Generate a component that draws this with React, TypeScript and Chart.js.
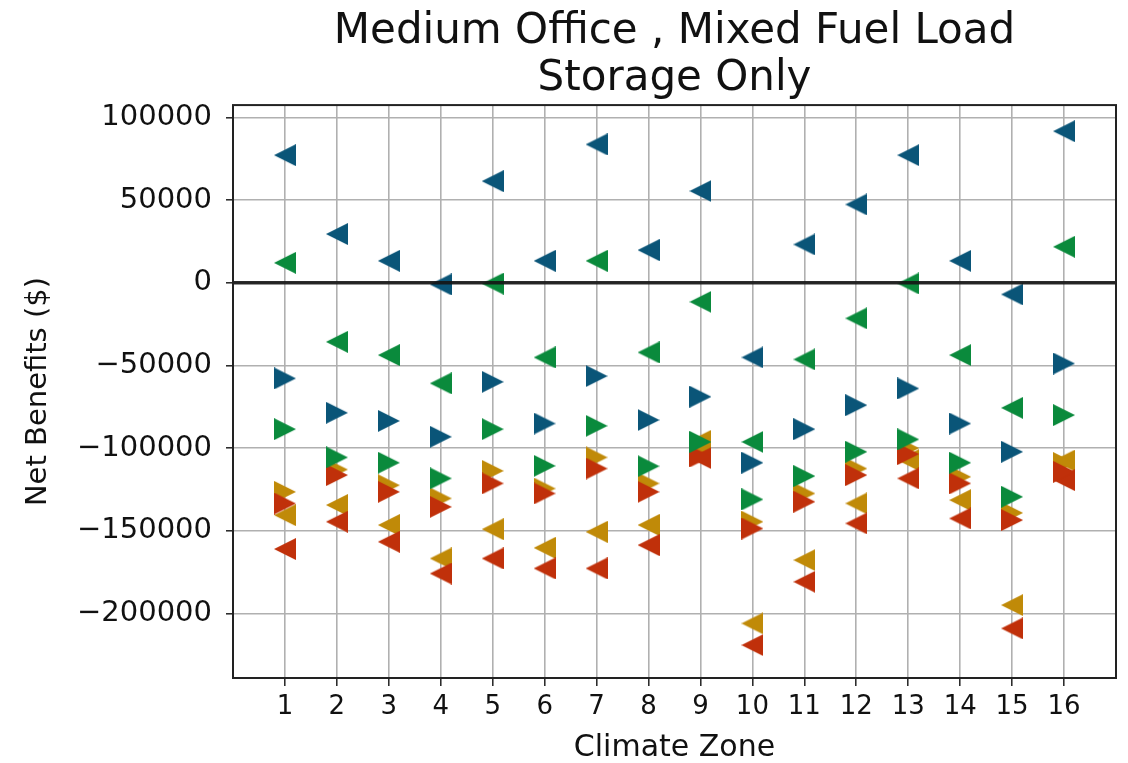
import { useEffect, useRef } from 'react';
import { Chart, registerables } from 'chart.js';

Chart.register(...registerables);

// Climate zones on the x axis
const zones = [1, 2, 3, 4, 5, 6, 7, 8, 9, 10, 11, 12, 13, 14, 15, 16];

// Net benefits ($) per climate zone, one array per marker series
const blueLeft = [77200, 29500, 13300, -1000, 61500, 13300, 83700, 19800, 55500, -45100, 23200, 47400, 77200, 13300, -7000, 91700];
const blueRight = [-57800, -78600, -83500, -93100, -59900, -85100, -56400, -83000, -68900, -108800, -88500, -74000, -63900, -85100, -102200, -48800];
const greenLeft = [12100, -35700, -43700, -60800, -500, -45100, 13300, -42100, -11500, -96200, -46300, -21500, -400, -43700, -75600, 21800];
const greenRight = [-88500, -105600, -108800, -118300, -88500, -110700, -86500, -110900, -96200, -131000, -116900, -102200, -94700, -108800, -129400, -80000];
const goldLeft = [-140500, -134400, -146500, -166700, -149000, -160300, -150600, -146500, -95500, -206000, -167700, -133400, -107200, -131400, -194900, -107500];
const goldRight = [-126400, -112900, -122400, -130400, -113700, -124400, -105600, -121300, -100500, -144500, -127400, -112300, -100000, -117300, -139100, -109000];
const redLeft = [-161000, -144500, -156600, -175800, -166700, -172700, -172700, -158600, -106000, -219100, -180800, -145500, -118300, -142500, -209000, -119300];
const redRight = [-133500, -116300, -126400, -135500, -121300, -127400, -112300, -126400, -105000, -148600, -132400, -116300, -103600, -121300, -143500, -114300];

// Axis tick values
const yTickValues = [100000, 50000, 0, -50000, -100000, -150000, -200000];
const xLimits = [0, 17];
const yLimits = [-239000, 107500];

const FONT = 'DejaVu Sans';
const BLUE = '#0a5578';
const GREEN = '#0a8a3c';
const GOLD = '#c08a08';
const RED = '#c0300a';

// Matplotlib-style triangle marker: tip on one side, flat base on the other
function triangleMarker(color: string, dir: 'left' | 'right'): HTMLCanvasElement {
  const s = 22;
  const c = document.createElement('canvas');
  c.width = s;
  c.height = s;
  const g = c.getContext('2d')!;
  g.fillStyle = color;
  g.beginPath();
  if (dir === 'left') {
    g.moveTo(0, s / 2);
    g.lineTo(s, 0);
    g.lineTo(s, s);
  } else {
    g.moveTo(s, s / 2);
    g.lineTo(0, 0);
    g.lineTo(0, s);
  }
  g.closePath();
  g.fill();
  return c;
}

const toPoints = (values: number[]) => zones.map((z, i) => ({ x: z, y: values[i] }));

const formatTick = (v: number) => (v < 0 ? '\u2212' + Math.abs(v) : String(v));

// Full box around the plotting area
const framePlugin = {
  id: 'frame',
  afterDraw(chart: any) {
    const { ctx, chartArea: a } = chart;
    ctx.save();
    ctx.strokeStyle = '#222';
    ctx.lineWidth = 2;
    ctx.strokeRect(a.left, a.top, a.right - a.left, a.bottom - a.top);
    ctx.restore();
  },
};

export default function App() {
  const canvasRef = useRef<HTMLCanvasElement | null>(null);

  useEffect(() => {
    const canvas = canvasRef.current;
    if (!canvas) return;

    const series = [
      { values: greenRight, color: GREEN, dir: 'right' },
      { values: greenLeft, color: GREEN, dir: 'left' },
      { values: blueRight, color: BLUE, dir: 'right' },
      { values: blueLeft, color: BLUE, dir: 'left' },
      { values: redRight, color: RED, dir: 'right' },
      { values: redLeft, color: RED, dir: 'left' },
      { values: goldRight, color: GOLD, dir: 'right' },
      { values: goldLeft, color: GOLD, dir: 'left' },
    ] as const;

    const datasets: any[] = [
      {
        type: 'line',
        data: [
          { x: xLimits[0], y: 0 },
          { x: xLimits[1], y: 0 },
        ],
        borderColor: 'rgba(20,20,20,0.9)',
        borderWidth: 3.5,
        pointRadius: 0,
        fill: false,
      },
      ...series.map((s) => ({
        type: 'scatter',
        data: toPoints(s.values as unknown as number[]),
        pointStyle: triangleMarker(s.color, s.dir),
        pointRadius: 11,
        backgroundColor: s.color,
        borderColor: s.color,
      })),
    ];

    const gridCommon = {
      color: '#b0b0b0',
      lineWidth: 1.6,
      tickColor: '#222',
      tickWidth: 1.5,
    };

    const chart = new Chart(canvas, {
      type: 'scatter',
      data: { datasets },
      plugins: [framePlugin],
      options: {
        responsive: false,
        animation: false,
        layout: { padding: { left: 0, right: 12, top: 0, bottom: 0 } },
        plugins: {
          legend: { display: false },
          tooltip: { enabled: false },
          title: {
            display: true,
            fullSize: false,
            text: ['Medium Office , Mixed Fuel Load', 'Storage Only'],
            color: '#111',
            font: { family: FONT, size: 42, weight: 'normal', lineHeight: 1.12 },
            padding: { top: 8.5, bottom: 2.5 },
          },
        },
        scales: {
          x: {
            type: 'linear',
            min: xLimits[0],
            max: xLimits[1],
            afterBuildTicks: (axis: any) => {
              axis.ticks = zones.map((v) => ({ value: v }));
            },
            afterFit: (scale: any) => {
              scale.height = 85;
            },
            border: { display: false },
            grid: { ...gridCommon, tickLength: 8 },
            ticks: {
              color: '#111',
              font: { family: FONT, size: 26 },
              padding: 6,
              maxRotation: 0,
              autoSkip: false,
            },
            title: {
              display: true,
              text: 'Climate Zone',
              color: '#111',
              font: { family: FONT, size: 30, lineHeight: 1.0 },
              padding: { top: 0, bottom: 0 },
            },
          },
          y: {
            type: 'linear',
            min: yLimits[0],
            max: yLimits[1],
            afterBuildTicks: (axis: any) => {
              axis.ticks = yTickValues.map((v) => ({ value: v }));
            },
            afterFit: (scale: any) => {
              scale.width = 233;
            },
            border: { display: false },
            grid: { ...gridCommon, tickLength: 7 },
            ticks: {
              color: '#111',
              font: { family: FONT, size: 29 },
              padding: 14,
              autoSkip: false,
              callback: (v: any) => formatTick(Number(v)),
            },
            title: {
              display: true,
              text: 'Net Benefits ($)',
              color: '#111',
              font: { family: FONT, size: 29 },
              padding: { top: 21, bottom: 0 },
            },
          },
        },
      } as any,
    });

    return () => chart.destroy();
  }, []);

  return (
    <div style={{ position: 'fixed', left: 0, top: 0, width: 1128, height: 763, background: '#fff' }}>
      <canvas ref={canvasRef} width={1128} height={763} style={{ display: 'block' }} />
    </div>
  );
}
